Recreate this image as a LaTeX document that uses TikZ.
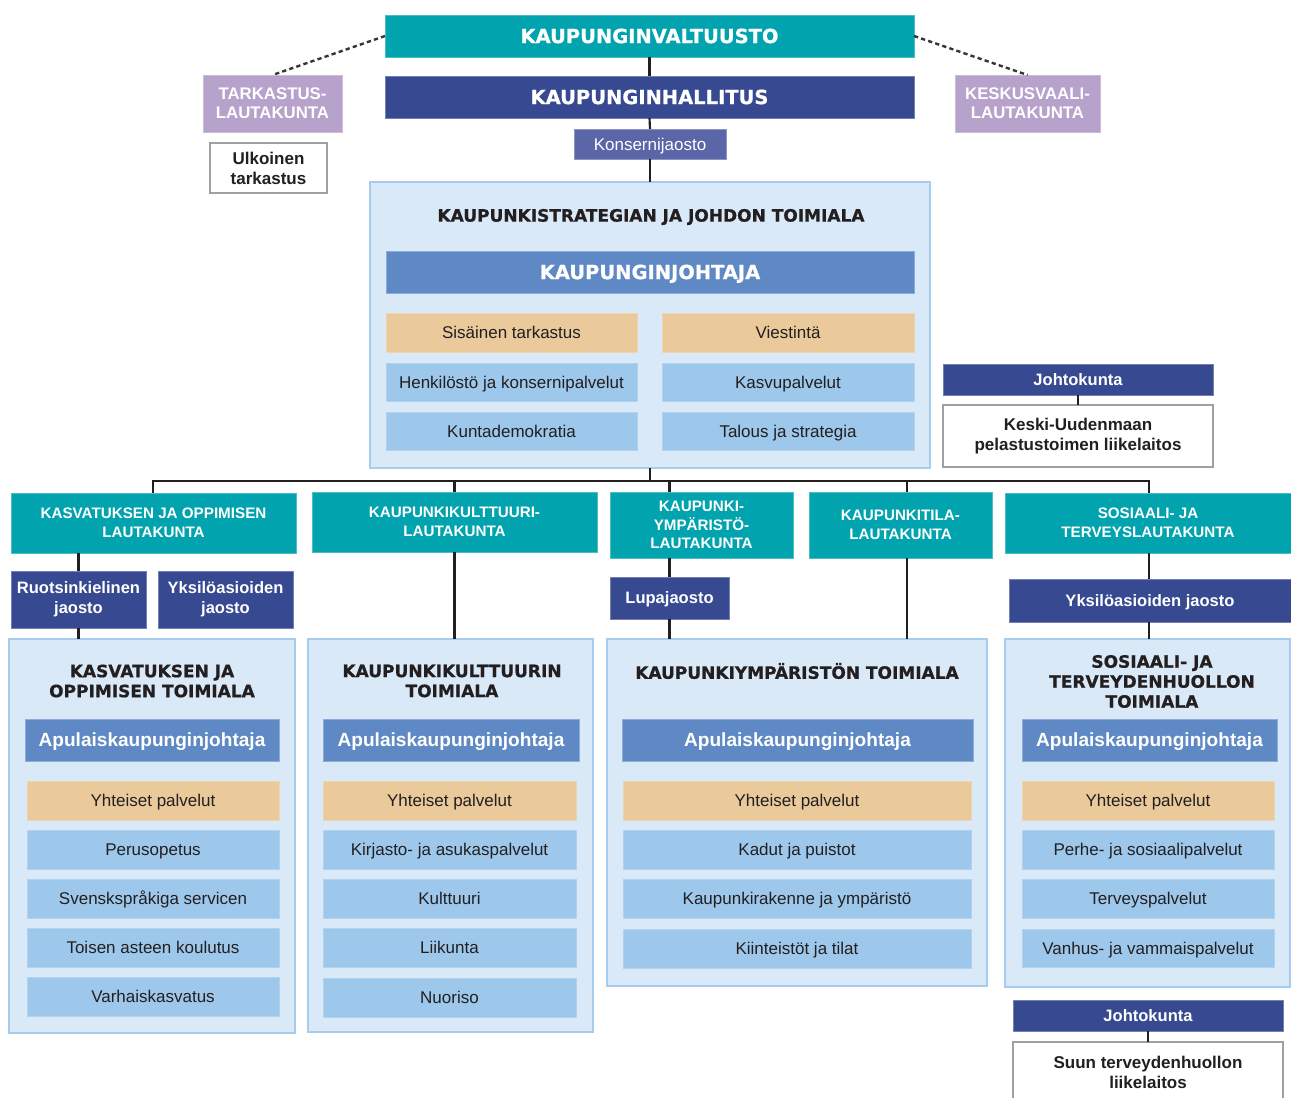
\documentclass[tikz,border=0pt]{standalone}
\usepackage{fontspec}
\setmainfont{Liberation Sans}
\newfontfamily\heavyfont{DejaVu Sans}[BoldFeatures={FakeBold=0.8}]
\definecolor{cTeal}{HTML}{00A3AE}
\definecolor{cDark}{HTML}{374991}
\definecolor{cLav}{HTML}{B6A2CB}
\definecolor{cKons}{HTML}{5A66A8}
\definecolor{cMid}{HTML}{5F89C4}
\definecolor{cLight}{HTML}{9DC8EC}
\definecolor{cPanel}{HTML}{D9E9F7}
\definecolor{cPanelB}{HTML}{A7CDEE}
\definecolor{cTan}{HTML}{EAC99B}
\definecolor{cInk}{HTML}{231F20}
\definecolor{cGrayB}{HTML}{A0A0A0}
\begin{document}
\begin{tikzpicture}[x=0.75pt,y=-0.75pt,
  R/.style n args={4}{minimum width={(#3-#1)*0.75pt}, minimum height={(#4-#2)*0.75pt}, at={({(#1+#3)/2},{(#2+#4)/2})}},
  basebox/.style={inner sep=0pt, outer sep=0pt, align=center},
  hdr/.style={basebox, fill=cTeal, draw=cTeal!70!white, line width=0.4pt, text=white, font=\heavyfont\bfseries\fontsize{14.6}{17}\selectfont, text height=10.6pt, text depth=0pt},
  hall/.style={hdr, fill=cDark, draw=cDark!70!white},
  mgr/.style={hdr, fill=cMid, draw=cMid!70!white},
  lav/.style={basebox, fill=cLav, draw=cLav!70!white, line width=0.4pt, text=white, font=\bfseries\fontsize{12.6}{14.3}\selectfont},
  wbox/.style={basebox, fill=white, draw=cGrayB, line width=0.8pt, text=cInk, font=\bfseries\fontsize{12.75}{15}\selectfont},
  kons/.style={basebox, fill=cKons, draw=cKons!70!white, line width=0.4pt, text=white, font=\fontsize{12.75}{15}\selectfont, text height=9.1pt, text depth=0pt},
  panel/.style={basebox, fill=cPanel, draw=cPanelB, line width=1pt},
  ttl/.style={basebox, text=cInk, font=\heavyfont\bfseries\fontsize{12.75}{15}\selectfont},
  apu/.style={basebox, fill=cMid, draw=cMid!70!white, line width=0.4pt, text=white, font=\bfseries\fontsize{14.3}{17}\selectfont, text height=10.2pt, text depth=0pt},
  item/.style={basebox, fill=cLight, draw=cLight!80!white, line width=0.4pt, text=cInk, font=\fontsize{12.75}{15}\selectfont, text height=9.1pt, text depth=0pt},
  tanitem/.style={item, fill=cTan, draw=cTan!80!white},
  com/.style={basebox, fill=cTeal, draw=cTeal!70!white, line width=0.4pt, text=white, font=\bfseries\fontsize{11.4}{14}\selectfont},
  jao/.style={basebox, fill=cDark, draw=cDark!70!white, line width=0.4pt, text=white, font=\bfseries\fontsize{12.4}{15}\selectfont},
  jao1/.style={jao, text height=8.9pt, text depth=0pt},
  conn/.style={draw=cInk, line width=1.6pt},
  dotline/.style={draw=cInk!90!white, line width=1.8pt, dash pattern=on 3.2pt off 2.4pt}
]
\useasboundingbox (0,0) rectangle (1291,1097);
\clip (0,0) rectangle (1291,1097);
\fill[white] (0,0) rectangle (1291,1097);

% top level
\node[hdr, R={385}{15}{914}{57}] (val) {KAUPUNGINVALTUUSTO};
\node[hall, R={385}{76}{914}{118}] (hal) {KAUPUNGINHALLITUS};
\node[lav, R={203}{75}{342}{132}] (tark) {TARKASTUS-\\LAUTAKUNTA};
\node[lav, R={955}{75}{1100}{132}] (kesk) {KESKUSVAALI-\\LAUTAKUNTA};
\node[wbox, R={210}{143}{327}{193}] (ulk) {Ulkoinen\\tarkastus};
\node[kons, R={574}{129}{726}{159}] (kons) {Konsernijaosto};

% central panel
\node[panel, R={370}{182}{930}{468}] (p0) {};
\node[ttl] (t0) at (651,217) {KAUPUNKISTRATEGIAN JA JOHDON TOIMIALA};
\node[mgr, R={386}{251}{914}{293}] (kj) {KAUPUNGINJOHTAJA};
\node[tanitem, R={386}{313}{637}{352}] (si) {Sisäinen tarkastus};
\node[tanitem, R={662}{313}{914}{352}] (vi) {Viestintä};
\node[item, R={386}{363}{637}{401}] (he) {Henkilöstö ja konsernipalvelut};
\node[item, R={662}{363}{914}{401}] (ka) {Kasvupalvelut};
\node[item, R={386}{412}{637}{450}] (ku) {Kuntademokratia};
\node[item, R={662}{412}{914}{450}] (ta) {Talous ja strategia};

% pelastus
\node[jao1, R={943}{364}{1213}{395}] (jk1) {Johtokunta};
\node[wbox, R={943}{405}{1213}{467}] (keski) {Keski-Uudenmaan\\pelastustoimen liikelaitos};

% committees
\node[com, R={11}{493}{296}{553}] (c1) {KASVATUKSEN JA OPPIMISEN\\LAUTAKUNTA};
\node[com, R={312}{492}{597}{552}] (c2) {KAUPUNKIKULTTUURI-\\LAUTAKUNTA};
\node[com, R={610}{492}{793}{558}] (c3) {KAUPUNKI-\\YMPÄRISTÖ-\\LAUTAKUNTA};
\node[com, R={809}{492}{992}{558}] (c4) {KAUPUNKITILA-\\LAUTAKUNTA};
\node[com, R={1005}{493}{1291}{553}] (c5) {SOSIAALI- JA\\TERVEYSLAUTAKUNTA};

% divisions
\node[jao, R={11}{571}{146}{628}] (j1) {Ruotsinkielinen\\jaosto};
\node[jao, R={158}{571}{293}{628}] (j2) {Yksilöasioiden\\jaosto};
\node[jao1, R={610}{577}{729}{619}] (j3) {Lupajaosto};
\node[jao1, R={1009}{579}{1291}{622}] (j4) {Yksilöasioiden jaosto};

% sector panels
\node[panel, R={9}{639}{295}{1033}] (p1) {};
\node[panel, R={308}{639}{593}{1032}] (p2) {};
\node[panel, R={607}{639}{987}{986}] (p3) {};
\node[panel, R={1005}{639}{1290}{987}] (p4) {};

\node[ttl] (t1) at (152,681) {KASVATUKSEN JA\\OPPIMISEN TOIMIALA};
\node[ttl] (t2) at (452,681) {KAUPUNKIKULTTUURIN\\TOIMIALA};
\node[ttl] (t3) at (797,671) {KAUPUNKIYMPÄRISTÖN TOIMIALA};
\node[ttl] (t4) at (1152,681.5) {SOSIAALI- JA\\TERVEYDENHUOLLON\\TOIMIALA};

\node[apu, R={25}{719}{279}{761}] (a1) {Apulaiskaupunginjohtaja};
\node[apu, R={323}{719}{579}{761}] (a2) {Apulaiskaupunginjohtaja};
\node[apu, R={622}{719}{973}{761}] (a3) {Apulaiskaupunginjohtaja};
\node[apu, R={1022}{719}{1277}{761}] (a4) {Apulaiskaupunginjohtaja};

% panel 1 items
\node[tanitem, R={27}{781}{279}{820}] (i11) {Yhteiset palvelut};
\node[item, R={27}{830}{279}{869}] (i12) {Perusopetus};
\node[item, R={27}{879}{279}{918}] (i13) {Svenskspråkiga servicen};
\node[item, R={27}{928}{279}{967}] (i14) {Toisen asteen koulutus};
\node[item, R={27}{977}{279}{1016}] (i15) {Varhaiskasvatus};

% panel 2 items
\node[tanitem, R={323}{781}{576}{820}] (i21) {Yhteiset palvelut};
\node[item, R={323}{830}{576}{869}] (i22) {Kirjasto- ja asukaspalvelut};
\node[item, R={323}{879}{576}{918}] (i23) {Kulttuuri};
\node[item, R={323}{928}{576}{967}] (i24) {Liikunta};
\node[item, R={323}{978}{576}{1017}] (i25) {Nuoriso};

% panel 3 items
\node[tanitem, R={623}{781}{971}{820}] (i31) {Yhteiset palvelut};
\node[item, R={623}{830}{971}{869}] (i32) {Kadut ja puistot};
\node[item, R={623}{879}{971}{918}] (i33) {Kaupunkirakenne ja ympäristö};
\node[item, R={623}{929}{971}{968}] (i34) {Kiinteistöt ja tilat};

% panel 4 items
\node[tanitem, R={1022}{781}{1274}{820}] (i41) {Yhteiset palvelut};
\node[item, R={1022}{830}{1274}{869}] (i42) {Perhe- ja sosiaalipalvelut};
\node[item, R={1022}{879}{1274}{918}] (i43) {Terveyspalvelut};
\node[item, R={1022}{929}{1274}{967}] (i44) {Vanhus- ja vammaispalvelut};

% suun terveydenhuolto
\node[jao1, R={1013}{1000}{1283}{1031}] (jk2) {Johtokunta};
\node[wbox, R={1013}{1042}{1283}{1102}] (suun) {Suun terveydenhuollon\\liikelaitos};

% connectors
\coordinate (busL) at (153,481);
\coordinate (busR) at (1149,481);
\coordinate (b4) at (907,481);
\draw[conn] (val.south) -- (hal.north);
\draw[conn] (hal.south) -- (kons.north);
\draw[conn] (kons.south) -- (p0.north);
\draw[conn] (p0.south) -- (p0.south |- busL);
\draw[conn, line cap=rect] (busL) -- (busR);
\draw[conn] (busL) -- (busL |- c1.north);
\draw[conn] (c2.north |- busL) -- (c2.north);
\draw[conn] (j3.north |- busL) -- (j3.north |- c3.north);
\draw[conn] (b4) -- (b4 |- c4.north);
\draw[conn] (busR) -- (busR |- c5.north);
\draw[conn] (j1.north |- c1.south) -- (j1.north);
\draw[conn] (j1.south) -- (j1.south |- p1.north);
\draw[conn] (c2.south) -- (c2.south |- p2.north);
\draw[conn] (j3.north |- c3.south) -- (j3.north);
\draw[conn] (j3.south) -- (j3.south |- p3.north);
\draw[conn] (b4 |- c4.south) -- (b4 |- p3.north);
\draw[conn] (busR |- c5.south) -- (busR |- j4.north);
\draw[conn] (busR |- j4.south) -- (busR |- p4.north);
\draw[conn] (jk1.south) -- (keski.north);
\draw[conn] (jk2.south) -- (suun.north);
\draw[dotline] (val.west) -- (tark.north);
\draw[dotline] (val.east) -- (kesk.north);
\end{tikzpicture}
\end{document}
